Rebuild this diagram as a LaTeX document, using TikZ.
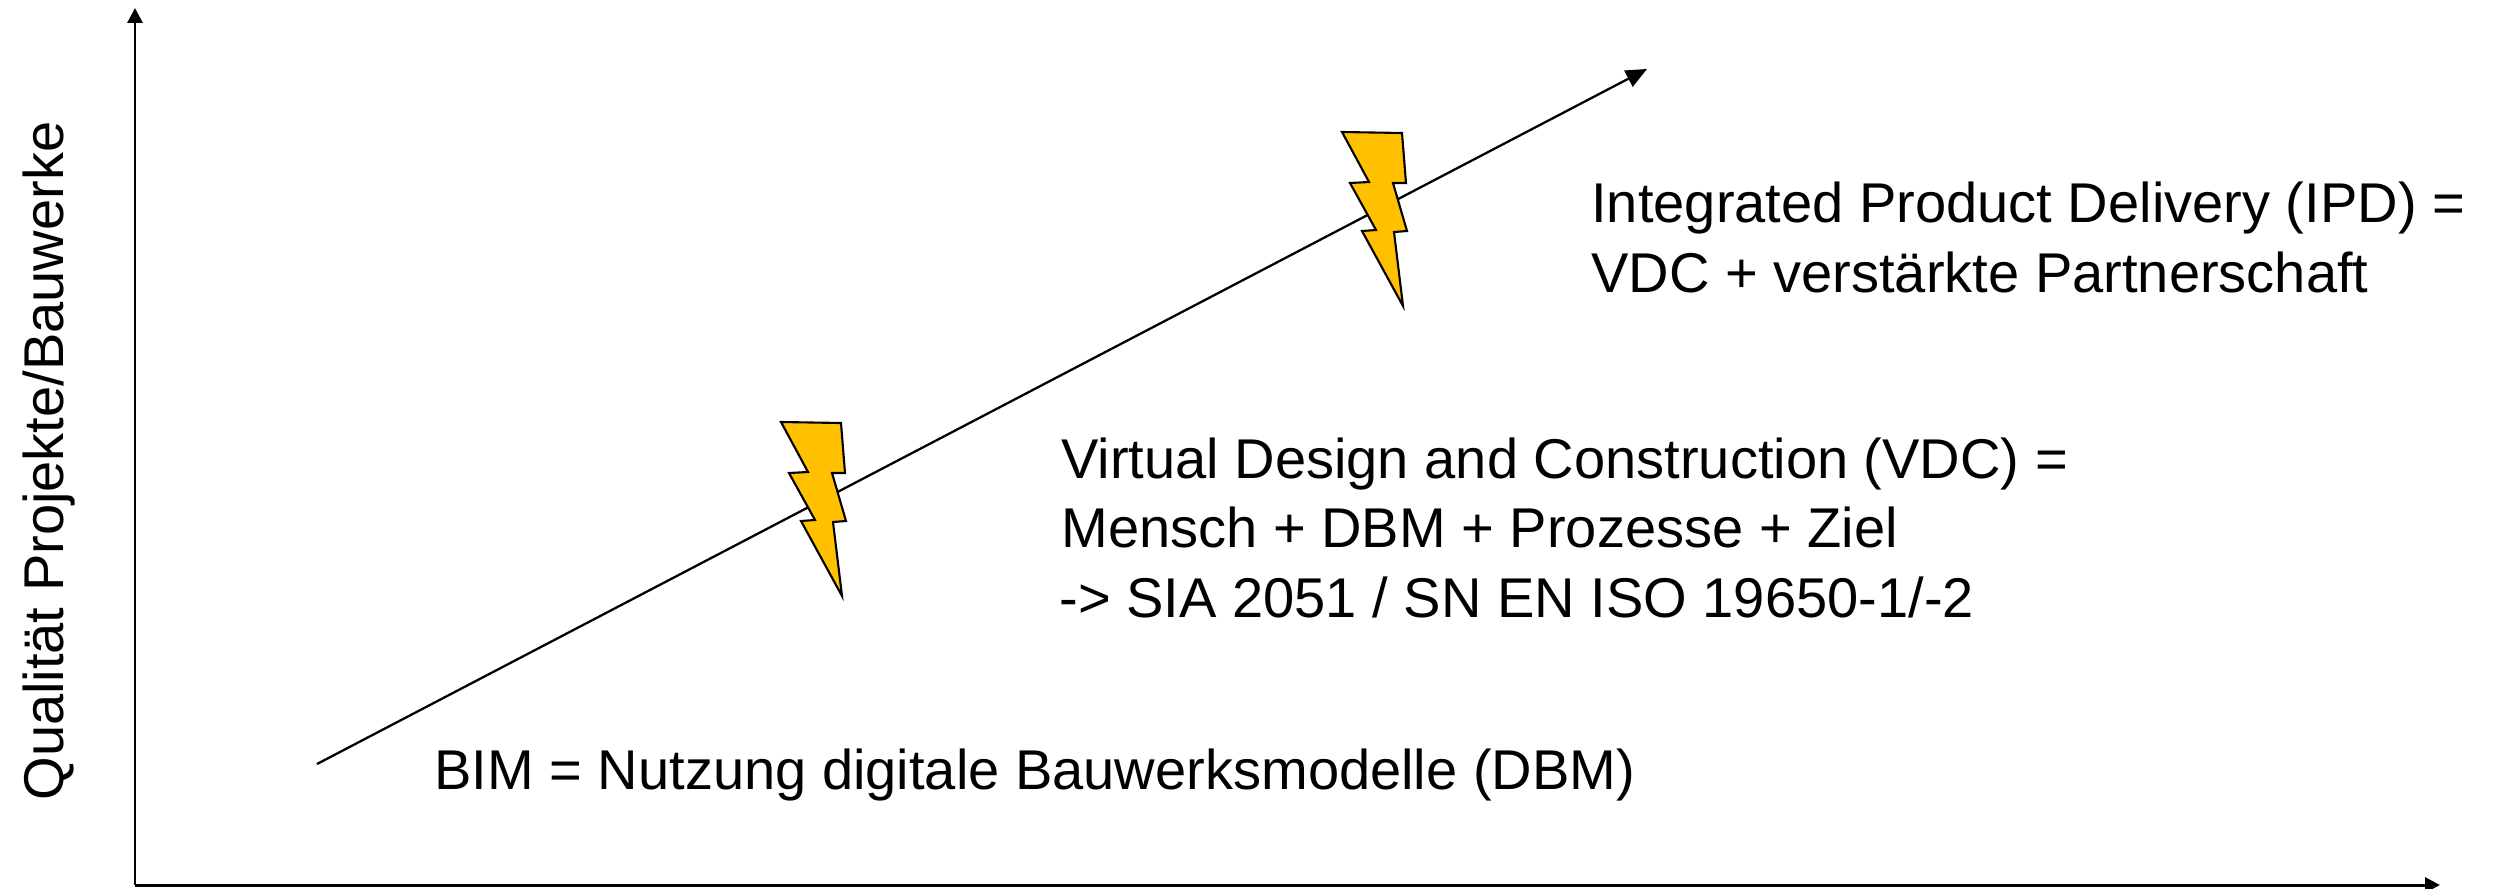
\documentclass[tikz,border=0pt]{standalone}
\usepackage{fontspec}
\setmainfont{Liberation Sans}
\usetikzlibrary{arrows.meta}
\tikzset{
    axisline/.style={line width=1.7pt, -{Triangle[length=0.3cm, width=0.3cm]}},
    bolt/.style={draw=black, line width=1.2pt, fill=boltyellow, line join=miter},
    lbl/.style={anchor=base west, inner sep=0pt, align=left, font=\fontsize{31.9}{39.5}\selectfont}
}
\definecolor{boltyellow}{HTML}{FFC000}
\newcommand{\lightning}[1]{%
    \draw[bolt, shift={#1}] (0,0) -- (60,1) -- (64,51) -- (51,51) -- (65,99) -- (52,100)
        -- (61,174) -- (20,99) -- (34,98) -- (8,51) -- (27,50) -- cycle;
}
\begin{document}
\begin{tikzpicture}[x=0.02cm, y=-0.02cm]
    \useasboundingbox (0,0) rectangle (2495,889);

    % axes
    \coordinate (origin) at (135,885);
    \coordinate (ytip) at (135,8);
    \coordinate (xtip) at (2440,885);
    \draw[axisline] (origin) -- (ytip);
    \draw[axisline] (origin) -- (xtip);
    \node[rotate=90, inner sep=0pt, font=\fontsize{31.9}{39.5}\selectfont] (ylabel) at (49,461) {Qualität Projekte/Bauwerke};

    % rising line
    \coordinate (start) at (317,764);
    \coordinate (end) at (1647,69);
    \draw[line width=1.3pt, -{Triangle[length=0.42cm, width=0.36cm]}] (start) -- (end);

    % lightning bolts
    \lightning{(781,422)}
    \lightning{(1342,132)}

    % texts
    \node[lbl] (bim) at (434,789) {BIM = Nutzung digitale Bauwerksmodelle (DBM)};
    \node[lbl] (vdc) at (1061,617) {Virtual Design and Construction (VDC) =\\
        Mensch + DBM + Prozesse + Ziel\\
        \hspace{-1pt}-> SIA 2051 / SN EN ISO 19650-1/-2};
    \node[lbl] (ipd) at (1591,292) {Integrated Product Delivery (IPD) =\\
        VDC + verstärkte Partnerschaft};
\end{tikzpicture}
\end{document}
